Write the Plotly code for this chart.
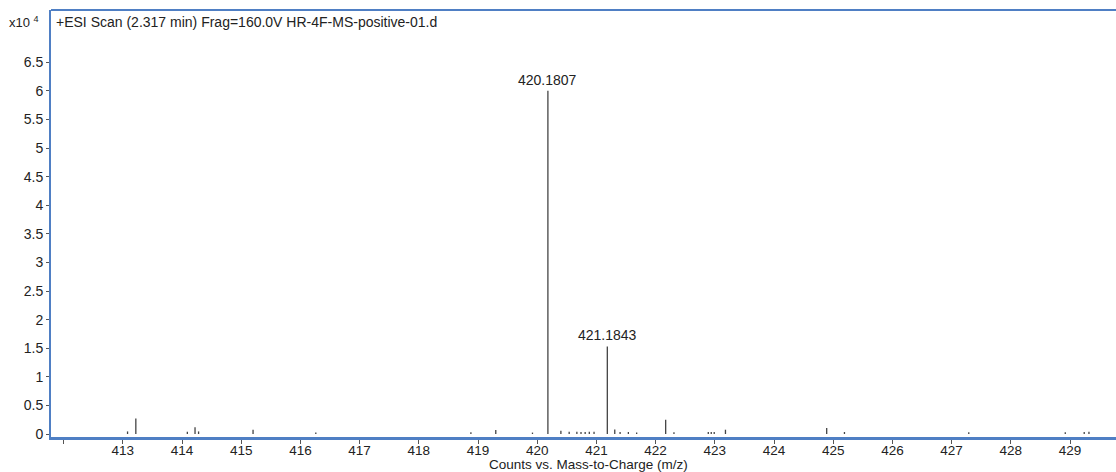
import plotly.graph_objects as go

# Centroided peaks: m/z and abundance (counts)
mz = [413.08, 413.22, 414.09, 414.22, 414.28, 415.20, 416.26,
      418.88, 419.30, 419.92, 420.1807, 420.40, 420.54, 420.67,
      420.74, 420.81, 420.88, 420.96, 421.1843, 421.31, 421.40,
      421.54, 421.68, 422.17, 422.31, 422.89, 422.94, 422.99,
      423.18, 424.89, 425.19, 427.29, 428.92, 429.24, 429.32]
counts = [450, 2700, 400, 1200, 450, 750, 250,
          300, 700, 250, 60000, 550, 400, 400,
          350, 350, 400, 400, 15300, 800, 350,
          350, 250, 2500, 300, 350, 350, 350,
          750, 1050, 350, 300, 300, 350, 400]

labelled = ["420.1807", "421.1843"]

x_ticks = list(range(412, 430))
x_tick_text = [" "] + [str(v) for v in range(413, 430)]
y_ticks = [i * 5000 for i in range(14)]
y_tick_text = ["0", "0.5", "1", "1.5", "2", "2.5", "3", "3.5", "4", "4.5",
               "5", "5.5", "6", "6.5"]

title_text = "+ESI Scan (2.317 min) Frag=160.0V HR-4F-MS-positive-01.d"
x_title = "Counts vs. Mass-to-Charge (m/z)"

FONT = "Liberation Sans, Arial, Helvetica, sans-serif"
TEXT = "#222222"
BLUE = "#4f7fc4"

# stick spectrum: one vertical segment per peak
xs, ys = [], []
for m, c in zip(mz, counts):
    xs += [m, m, None]
    ys += [0, c, None]

fig = go.Figure()
fig.add_trace(go.Scatter(
    x=xs, y=ys, mode="lines",
    line=dict(color="#444444", width=1.3),
    hoverinfo="skip", showlegend=False,
))

for m, c in zip(mz, counts):
    if f"{m:.4f}" in labelled:
        fig.add_annotation(
            x=m, y=c, text=f"{m:.4f}", showarrow=False,
            xanchor="center", yanchor="bottom", yshift=1,
            font=dict(family=FONT, size=14, color=TEXT),
        )

# scale multiplier and scan header
fig.add_annotation(
    xref="paper", yref="paper", x=-0.009, y=0.972,
    text="x10 <sup>4</sup>", showarrow=False,
    xanchor="right", yanchor="middle",
    font=dict(family=FONT, size=13, color=TEXT),
)
fig.add_annotation(
    xref="paper", yref="paper", x=0.003, y=0.972,
    text=title_text, showarrow=False,
    xanchor="left", yanchor="middle",
    font=dict(family=FONT, size=14, color=TEXT),
)
fig.add_annotation(
    xref="paper", yref="paper", x=0.505, y=-0.0635,
    text=x_title, showarrow=False,
    xanchor="center", yanchor="middle",
    font=dict(family=FONT, size=13.5, color=TEXT),
)

# top frame line
fig.add_shape(
    type="line", xref="paper", yref="paper",
    x0=0, x1=1, y0=1, y1=1,
    line=dict(color=BLUE, width=1.8),
)

fig.update_layout(
    width=1116, height=472,
    margin=dict(l=51, r=0, t=10, b=35),
    paper_bgcolor="white", plot_bgcolor="white",
    font=dict(family=FONT, color=TEXT),
    xaxis=dict(
        range=[411.787, 429.777],
        tickvals=x_ticks, ticktext=x_tick_text,
        ticks="outside", ticklen=4, tickwidth=1, tickcolor="#555555",
        ticklabelstandoff=-5,
        tickfont=dict(family=FONT, size=13.5, color=TEXT),
        showgrid=False, zeroline=False,
        showline=True, linecolor=BLUE, linewidth=2.5,
    ),
    yaxis=dict(
        range=[-524, 74126],
        tickvals=y_ticks, ticktext=y_tick_text,
        ticks="outside", ticklen=3, tickwidth=1, tickcolor="#555555",
        tickfont=dict(family=FONT, size=14, color=TEXT),
        showgrid=False, zeroline=False,
        showline=True, linecolor=BLUE, linewidth=2,
    ),
)

fig.write_html("out.html")
